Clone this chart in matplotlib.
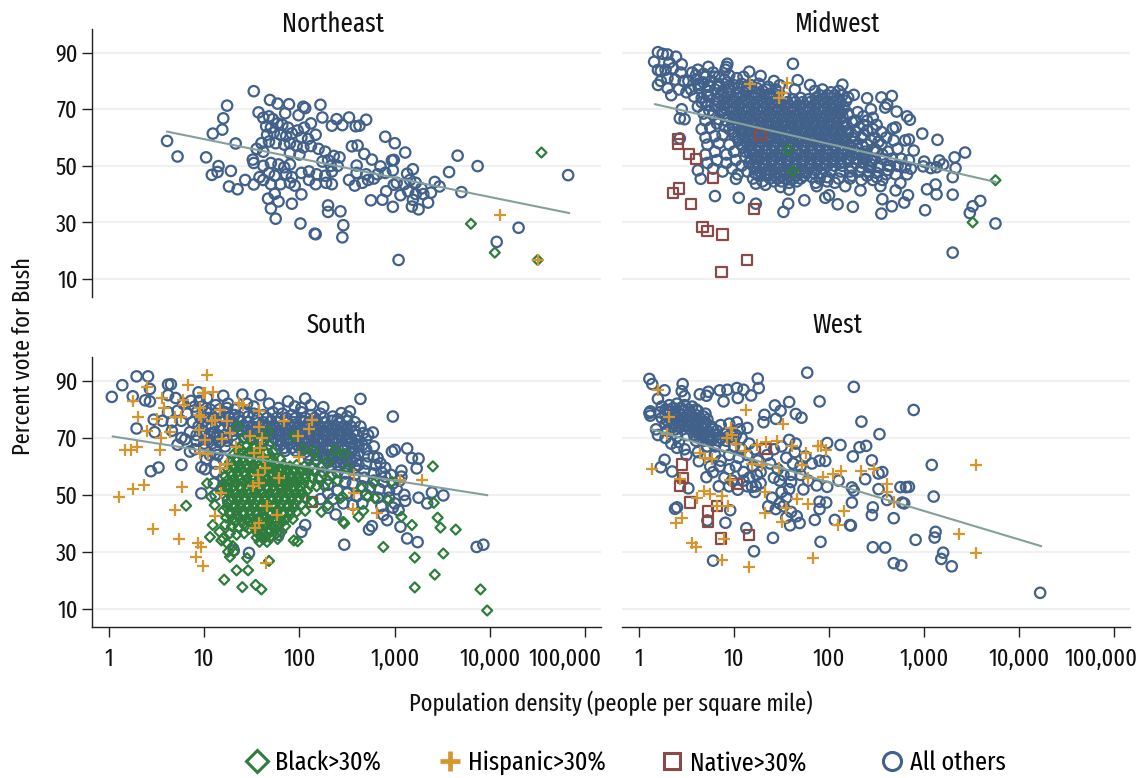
import numpy as np
import matplotlib
matplotlib.use("Agg")
import matplotlib.pyplot as plt
from matplotlib.lines import Line2D
from matplotlib.ticker import FixedLocator, NullLocator
from matplotlib.transforms import ScaledTranslation

plt.rcParams['font.family'] = ['Fira Sans Extra Condensed', 'PT Sans Narrow', 'Liberation Sans', 'DejaVu Sans']

# all points are (log10 density, percent Bush)
ne_others = [(.61,58.8),(.72,53.3),(1.02,53),(1.09,61.4),(1.19,62.8),(1.20,66.8),(1.24,71.3),(1.33,57.9),(1.08,46.8),(1.15,49.9),(1.14,47.8),(1.28,48.2),(1.26,42.7),(1.35,41.7),(1.43,45),(1.52,43.4),(1.51,52.2),(1.52,51),(1.52,76.4),(1.57,68.9),(1.69,73.3),(1.77,72),(1.89,71.8),(2.04,70.9),(2.06,70.4),(2.22,71.6),(1.85,68.6),(1.99,67.9),(2.24,67.1),(2.39,66.5),(2.52,67.1),(2.70,66.3),(2.34,64.2),(2.45,64.4),(2.59,64),(2.63,64.2),(2.90,60.3),(3.0,58),(3.11,54.7),(3.66,53.6),(3.87,49.9),(3.57,47.8),(3.47,42.7),(3.42,44.3),(3.70,40.7),(4.82,46.7),(4.30,28.1),(4.07,23.1),(3.04,16.7),(2.30,36),(2.30,33.7),(2.43,33.9),(2.46,29),(2.45,24.7),(2.16,26),(2.17,25.8),(2.01,29.6),(1.75,31.3),(1.70,34.9),(1.67,38.4),(1.78,37.4),(1.92,36.6),(1.74,40.1),(2.02,39.9),(2.75,37.8),(2.87,38),(2.98,35.5),(3.18,35.6),(3.25,34.6),(3.35,37),(3.06,39.6),(2.91,41),(3.19,38),(2.99,43.3),(3.19,48.8),(3.13,47.2),(2.97,51.9),(2.99,52.1),(2.98,48.4),(2.85,49.8),(2.76,52.2),(2.68,54.2),(2.61,57.2),(2.55,56.9),(2.60,50.1),
    (1.62,67),(1.68,67.5),(1.72,66.5),(1.65,64),(1.70,63.5),(1.77,65),(1.82,64.5),(1.88,63.5),(1.66,61),(1.73,61.8),(1.80,61),(1.86,60.5),(1.92,61.5),(1.98,62.5),(2.05,63.5),(2.12,65),(2.17,61),(2.02,60),(2.09,59.5),(1.60,58),(1.68,58.6),(1.75,58),(1.84,57.5),(1.90,58),(1.97,57),(2.04,56.5),(2.12,57),(2.20,56),(2.27,55),(1.55,56),(1.62,55),(1.90,54.5),(2.0,54),(2.30,52),(2.36,53.5),(2.42,53),(2.24,51.5),(2.33,50),(2.40,50),(1.62,50),(1.70,51),(1.78,50.5),(1.84,49.5),(1.90,50.5),(1.68,47.5),(1.74,46.5),(1.86,47),(1.92,46),(2.02,47.5),(2.10,48),(2.18,47),(2.27,46.5),(2.34,48),(1.58,46),(1.62,45),(1.70,43.5),(1.80,43.5),(1.90,44),(1.95,43),(2.10,45),(2.17,43.5),(2.28,44),(2.34,43.5),(2.52,45),(2.58,43),(2.66,44),(2.72,45),(2.78,45.5),(2.60,47.5),(2.70,47),(2.82,47),(2.90,47.5),(3.02,44),(3.10,43.5),(3.16,45),(3.22,44),(3.28,42),(3.14,41),(3.22,40),(3.30,40),(3.38,40.5)]
ne_black = [(4.54,54.7),(3.80,29.5),(4.05,19.3),(4.50,16.7)]
ne_hisp = [(4.11,32.6),(4.50,16.7)]
ne_fit = [(.61,62.1),(4.83,33.3)]

mw_others = [(.20,90.2),(.25,89.6),(.30,89.4),(.39,88.6),(.16,86.8),(.45,85.9),(.20,83.9),(.32,86.5),(.23,83.5),(.20,78.6),(.34,75),(.23,80),(.45,70),(.43,66.8),(.48,66.5),(.43,59.7),(.73,85),(.93,86.1),(.92,85),(.91,84),(1.16,83.3),(1.28,81.8),(1.42,80),(1.62,86.1),(1.67,80.3),(1.80,78.6),(1.64,77),(2.14,78.7),(2.26,75.1),(2.20,74.2),(2.40,73.9),(2.55,74.2),(2.66,74.7),(2.61,71.8),(2.59,70.6),(2.71,69.2),(2.44,70),(2.82,67.5),(2.85,66.3),(2.70,63.6),(2.67,63.2),(2.98,61.4),(3.14,59.2),(2.84,59.3),(2.80,59),(2.89,55.4),(2.68,59),(3.43,54.7),(3.32,53),(3.33,49.2),(3.16,51.9),(3.20,50.5),(3.0,51.5),(2.99,49.8),(3.07,49.2),(3.13,49.5),(3.30,46),(3.03,41.7),(3.12,43.4),(3.13,39.9),(3.30,39.8),(3.59,37.6),(3.51,35.7),(3.48,33.3),(3.75,29.6),(3.30,19.3),(3.01,34.3),(2.83,39.6),(2.79,37),(2.66,35.7),(2.55,33.1),(2.56,38.2),(2.25,35.5),(2.09,36.4),(2.0,39.6),(1.96,38.7),(1.74,37.8),(1.57,36.6),(1.52,33.7),(1.23,36.6),(1.05,38.7),(.80,39.3),(.65,45.4),(.62,48.4),(1.02,45.4),(1.23,43.7),(1.33,43.3),(1.49,42.5),(1.58,41.6),(1.87,42.8),(2.17,42.8),(2.33,41.3),(2.54,42.8),(2.70,41.3),(2.75,43.9),
    (.28,84),(.36,84.5),(.44,83),(.30,81),(.38,80.5),(.47,80),(.30,77.5),(.42,77),(.50,76),(.56,83),(.62,84),(.68,82.5),(.78,83),(.84,81.5),(.95,82),(1.03,81),(1.10,81.5),
    (.52,80),(.60,80.5),(.68,79.5),(.76,80),(.84,79),(.93,79.5),(1.0,78.5),(1.08,79),(1.18,78.5),(1.26,79),(1.36,78),(1.48,78.5),(.55,77),(.63,77.5),(.72,76.5),(.80,77),(.88,76.5),(.96,77),(1.05,76),(1.13,76.5),(1.22,76),(1.30,76.5),(1.38,75.5),(1.47,76),(1.85,76.5),(1.93,77),(2.02,76),(2.10,76.5),
    (.58,74.5),(.66,74),(.74,74.5),(.82,73.5),(.90,74),(.98,73.5),(1.06,74),(1.14,73.5),(1.22,74),(1.30,73.5),(1.38,74),(1.46,73),(1.54,74),(1.62,73.5),(1.70,74),(1.78,73.5),(1.86,74),(1.94,73.5),(2.02,74),(2.10,73.5),(2.18,73),
    (.62,71),(.72,71.5),(.80,71),(.88,71.5),(.96,71),(1.04,71.5),(1.12,71),(1.20,71.5),(1.28,71),(1.36,71.5),(1.44,71),(1.52,71.5),(1.60,71),(1.68,71.5),(1.76,71),(1.84,71.5),(1.92,71),(2.0,71.5),(2.08,71),(2.16,70.5),
    (.68,68.5),(.78,68),(.90,68.5),(.98,69),(1.06,68.5),(1.14,69),(1.22,68.5),(1.30,69),(1.38,68.5),(1.46,69),(1.54,68.5),(1.62,69),(1.70,68.5),(1.78,69),(1.86,68.5),(1.94,69),(2.02,68.5),(2.10,69),(2.20,68.5),(2.36,67.5),(2.46,67),
    (.70,66),(.82,65),(.92,66),(1.0,66.5),(1.08,66),(1.16,66.5),(1.24,66),(1.32,66.5),(1.40,66),(1.48,66.5),(1.56,66),(1.64,66.5),(1.72,66),(1.80,66.5),(1.88,66),(1.96,66.5),(2.04,66),(2.12,66.5),(2.24,65.5),(2.36,64.5),(2.50,64.5),
    (.66,63),(.75,63.5),(.95,63),(1.04,64),(1.12,63.5),(1.20,64),(1.28,63.5),(1.36,64),(1.44,63.5),(1.52,64),(1.60,63.5),(1.68,64),(1.76,63.5),(1.84,64),(1.92,63.5),(2.0,64),(2.08,63.5),(2.16,64),(2.28,62),(2.40,62.5),(2.55,62),
    (.70,60),(.80,60.5),(.88,61),(1.0,61),(1.08,61.5),(1.16,61),(1.24,61.5),(1.32,61),(1.40,61.5),(1.48,61),(1.56,61.5),(1.64,61),(1.72,61.5),(1.80,61),(1.88,61.5),(1.96,61),(2.04,61.5),(2.12,61),(2.20,61.5),(2.34,60),(2.48,60),(2.60,60),
    (.72,57.5),(.84,58),(.95,57.5),(1.05,59),(1.13,58.5),(1.21,59),(1.29,58.5),(1.37,59),(1.45,58.5),(1.53,59),(1.61,58.5),(1.69,59),(1.77,58.5),(1.85,59),(1.93,58.5),(2.01,59),(2.09,58.5),(2.17,59),(2.25,58.5),(2.40,57.5),(2.55,57.5),
    (.70,54),(.80,55),(.92,54),(1.0,55),(1.10,56.5),(1.18,56),(1.26,56.5),(1.34,56),(1.42,56.5),(1.50,56),(1.58,56.5),(1.66,56),(1.74,56.5),(1.82,56),(1.90,56.5),(1.98,56),(2.06,56.5),(2.14,56),(2.22,56.5),(2.30,56),(2.38,55),(2.50,55),(2.62,55),(2.72,56),
    (.72,51),(.82,52),(.92,51),(1.02,52),(1.12,53),(1.20,54),(1.28,53.5),(1.36,54),(1.44,53.5),(1.52,54),(1.60,53.5),(1.68,54),(1.76,53.5),(1.84,54),(1.92,53.5),(2.0,54),(2.08,53.5),(2.16,54),(2.24,53.5),(2.32,54),(2.40,53),(2.48,52.5),(2.56,52.5),(2.66,52.5),(2.76,52.5),(2.84,52),
    (.78,49),(.88,48),(.98,49),(1.08,50),(1.16,51),(1.24,51.5),(1.32,51),(1.40,51.5),(1.48,51),(1.56,51.5),(1.64,51),(1.72,51.5),(1.80,51),(1.88,51.5),(1.96,51),(2.04,51.5),(2.12,51),(2.20,51.5),(2.28,51),(2.36,51),(2.44,50.5),(2.52,50),(2.62,50),(2.72,50),(2.80,49.5),(2.86,49),
    (1.04,47),(1.14,48),(1.22,49),(1.30,49),(1.38,48.5),(1.46,49),(1.54,48.5),(1.62,49),(1.70,48.5),(1.78,49),(1.86,48.5),(1.94,49),(2.02,48.5),(2.12,48),(2.22,48),(2.32,48),(2.42,48),(2.50,47.5),(2.60,47),(2.70,47),(2.82,47),
    (1.26,46.5),(1.34,46.5),(1.42,46.5),(1.50,46.5),(1.58,46.5),(1.66,46.5),(1.74,46.5),(1.82,46),(1.90,45.5),(1.98,46),(2.10,45.5),(2.22,45.5),(2.34,45),(2.46,45),(2.56,45),(1.30,44.5),(1.42,44.5),(1.50,44.5),(1.58,44),(1.66,44.5),(1.86,44)]
# the solid middle of the Midwest cloud
mw_core = [(.60,82),(.70,81.5),(.80,81.5),(.90,80.5),(.64,78.5),(.74,78),(.84,78),(.94,78),(1.04,77.5),(1.14,78),(1.24,77.5),(1.34,77),(1.44,77),
    (.86,75),(.94,75.5),(1.02,75),(1.10,75),(1.18,75),(1.26,75),(1.34,75),(1.42,74.5),(1.90,75),(1.98,75),(2.06,75),(2.14,75),
    (.70,72.5),(.84,72.5),(.92,72.5),(1.00,72.5),(1.08,72.5),(1.16,72.5),(1.24,72.5),(1.32,72.5),(1.40,72.5),(1.48,72.5),(1.56,72.5),(1.64,72.5),(1.72,72.5),(1.80,72.5),(1.88,72.5),(1.96,72.5),(2.04,72.5),(2.12,72.5),
    (.92,70),(1.00,70),(1.08,70),(1.16,70),(1.24,70),(1.32,70),(1.40,70),(1.48,70),(1.56,70),(1.64,70),(1.72,70),(1.80,70),(1.88,70),(1.96,70),(2.04,70),(2.12,69),
    (.94,67.5),(1.02,67.5),(1.10,67.5),(1.18,67.5),(1.26,67.5),(1.34,67.5),(1.42,67.5),(1.50,67.5),(1.58,67.5),(1.66,67.5),(1.74,67.5),(1.82,67.5),(1.90,67.5),(1.98,67.5),(2.06,67.5),(2.14,67.5),
    (1.04,65),(1.12,65),(1.20,65),(1.28,65),(1.36,65),(1.44,65),(1.52,65),(1.60,65),(1.68,65),(1.76,65),(1.84,65),(1.92,65),(2.0,65),(2.08,65),(2.16,65),
    (1.08,62.5),(1.16,62.5),(1.24,62.5),(1.32,62.5),(1.40,62.5),(1.48,62.5),(1.56,62.5),(1.64,62.5),(1.72,62.5),(1.80,62.5),(1.88,62.5),(1.96,62.5),(2.04,62.5),(2.12,62.5),(2.20,62.5),
    (1.12,60),(1.20,60),(1.28,60),(1.36,60),(1.44,60),(1.52,60),(1.60,60),(1.68,60),(1.76,60),(1.84,60),(1.92,60),(2.0,60),(2.08,60),(2.16,60),(2.24,60),
    (1.17,57.5),(1.25,57.5),(1.33,57.5),(1.41,57.5),(1.49,57.5),(1.57,57.5),(1.65,57.5),(1.73,57.5),(1.81,57.5),(1.89,57.5),(1.97,57.5),(2.05,57.5),(2.13,57.5),(2.21,57.5),(2.29,57.5),(2.35,57),
    (1.16,55),(1.24,55),(1.32,55),(1.40,55),(1.48,55),(1.56,55),(1.64,55),(1.72,55),(1.80,55),(1.88,55),(1.96,55),(2.04,55),(2.12,55),(2.20,55),(2.28,55),(2.36,54),
    (1.24,52.5),(1.32,52.5),(1.40,52.5),(1.48,52.5),(1.56,52.5),(1.64,52.5),(1.72,52.5),(1.80,52.5),(1.88,52.5),(1.96,52.5),(2.04,52.5),(2.12,52.5),(2.20,52.5),(2.28,52.5),(2.36,52.5),(2.44,52),
    (1.26,50),(1.34,50),(1.42,50),(1.50,50),(1.58,50),(1.66,50),(1.74,50),(1.82,50),(1.90,50),(1.98,50),(2.06,50),(2.14,50),(2.24,49.5),(2.34,49.5),(2.42,49.5),
    (1.28,47.5),(1.36,47.5),(1.44,47.5),(1.52,47.5),(1.60,47.5),(1.68,47.5),(1.76,47.5),(1.84,47.5),(1.92,47.5),(1.38,45.5),(1.46,45.5),(1.54,45.5),(1.62,45.5),(1.70,45.5),
    (.62,79),(.72,75),(.66,72.5),(.74,69.5),(.86,69),(.84,66.5),(.90,64),(.98,64.5),(1.0,62),(1.04,60),(1.08,57.5),(1.12,55),(1.18,52.5),(1.20,50),(1.22,47.5),(1.20,45.5),(1.98,44.5),(2.06,44),(2.24,46.5),(2.40,46.5),(2.50,46),(2.20,68),(2.30,69),(2.28,66),(2.40,66),(2.32,63.5),(2.46,63),(2.36,61),(2.44,59),(2.52,58.5),(2.48,56),(2.56,54),(2.64,50),(2.62,48.5)]
mw_black = [(3.75,44.9),(3.51,30),(1.57,55.6),(1.62,48.1)]
mw_hisp = [(1.17,79),(1.56,79.2),(1.50,75.6),(1.47,74)]
mw_native = [(.41,59.5),(.41,57.8),(.53,54.2),(.60,52.3),(.78,45.8),(.42,42),(.36,40.5),(.55,36.4),(.67,28.3),(.72,27),(.88,25.7),(.87,12.5),(1.14,16.7),(1.21,34.8),(1.28,61)]
mw_fit = [(.17,71.8),(3.75,44.3)]

so_others = [(.03,84.4),(.14,88.5),(.29,91.6),(.41,91.6),(.25,84.6),(.38,83.2),(.43,82.8),(.43,87.2),(.62,88.7),(.65,88.8),(.29,73.3),(.47,76.4),(.48,72),(.72,67.6),(.85,65.2),(.76,60.5),(.44,58.3),(.52,59.6),(.76,70),(.97,50.5),(.97,59.7),(1.01,59),(.94,86),(1.2,84.8),(1.40,85.2),(1.59,85),(1.88,82.8),(2.06,83.8),(2.25,80.8),(2.44,78.7),(2.53,79.3),(2.64,83.7),(2.98,77.5),(2.77,71.9),(2.67,71.7),(2.97,65.2),(3.0,65.8),(3.13,66.3),(3.18,62.9),(3.25,62.7),(3.23,59.3),(3.07,58.5),(3.07,56.4),(2.9,56.4),(2.85,61.1),(2.78,63.4),(3.39,50.8),(3.51,49.8),(3.25,49),(3.34,47),(3.11,47.9),(3.04,44.6),(2.92,41.1),(3.06,38.8),(3.13,34.7),(3.24,33.4),(3.86,31.7),(3.93,32.5),(2.47,32.5),(2.73,37.8),(2.76,39),(2.38,43.1),(2.06,39.4),(2.02,37),(1.47,29.6),(1.31,30.5),
    (.62,85),(.70,84),(.78,82),(.86,83),(.95,83),(1.03,84),(1.12,81.5),(1.25,82),(1.32,80),(1.45,82),(1.52,81),(1.68,82),(1.78,80.5),(1.95,81),(2.02,80.5),(2.12,81.5),(.62,79),(.72,79.5),(.82,78.5),(.92,79),(1.02,79),(1.12,78.5),(1.22,79),(1.32,78),(1.42,79),(1.52,78.5),(1.62,78),(1.72,79),(1.82,78.5),(1.92,78),(2.02,79),(2.12,78),(2.22,78.5),(2.35,77.5),
    (.56,76),(.66,75.5),(.76,76),(.88,75.5),(1.0,76),(1.12,75.5),(1.22,76),(1.30,75.5),(1.38,76),(1.46,75.5),(1.54,76),(1.62,75.5),(1.70,76),(1.78,75.5),(1.86,76),(1.94,75.5),(2.02,76),(2.10,75.5),(2.18,76),(2.26,75.5),(2.34,76),(2.42,75.5),(2.50,76),(2.58,75.5),
    (.66,72.5),(.85,72),(.98,72.5),(1.1,72),(1.2,73),(1.30,72.5),(1.38,73),(1.46,72.5),(1.54,73),(1.62,72.5),(1.70,73),(1.78,72.5),(1.86,73),(1.94,72.5),(2.02,73),(2.10,72.5),(2.18,73),(2.26,72.5),(2.34,73),(2.42,72.5),(2.50,73),(2.58,72.5),
    (.80,69.5),(.92,69),(1.04,69.5),(1.12,70),(1.22,70),(1.42,70),(1.50,70.5),(1.58,70),(1.66,70.5),(1.74,70),(1.82,70.5),(1.90,70),(1.98,70.5),(2.06,70),(2.14,70.5),(2.22,70),(2.30,70.5),(2.38,70),(2.46,70.5),(2.54,70),(2.62,69),(2.70,69.5),
    (.90,66),(1.0,66),(1.12,66),(1.22,67),(1.80,67.5),(1.90,68),(1.98,67.5),(2.06,68),(2.14,67.5),(2.22,68),(2.30,67.5),(2.38,68),(2.46,67.5),(2.54,68),(2.62,67),(2.70,66),(2.78,67),(1.85,65.5),(1.96,65.5),(2.06,65),(2.14,65.5),(2.22,65),(2.30,65.5),(2.38,65),(2.46,65.5),(2.54,65),(2.62,64.5),(2.72,63.5),(2.82,63),
    (1.02,62.5),(1.12,61),(2.10,63),(2.18,62.5),(2.26,63),(2.34,62.5),(2.42,63),(2.50,62.5),(2.60,62),(2.70,61),(2.80,60.5),(2.90,59.5),(2.25,60.5),(2.33,60),(2.41,60.5),(2.49,60),(2.58,59.5),(2.68,58.5),(2.78,57.5),(2.86,58),(2.96,57),(2.40,58),(2.48,57.5),(2.58,57),(2.68,56),(2.78,55),(2.88,54.5),(2.98,54),(3.05,55),(2.48,54.5),(2.56,54),(2.66,53),(2.74,52.5),(2.84,52),(2.94,51.5),(3.02,52),(3.10,50),(2.40,51.5),(2.50,50.5),(2.60,49.5),(2.70,50),(2.82,49),(2.94,49),(3.0,47),(2.35,48.5),(2.46,47),(2.56,46.5),(2.66,47),(2.86,46),(2.98,45.5),(2.88,43),(2.30,45.5),
    (1.12,58),(1.20,56),(1.10,54),(1.18,52),(1.12,50),(1.25,48),(1.40,44),(1.60,42),(1.78,36),(1.60,36)]
# the solid top of the South cloud
so_core = [(1.26,77.5),(1.36,77.5),(1.46,77.5),(1.56,77),(1.66,77),(1.76,77),(1.86,77),(1.96,77),(2.06,77),(2.16,77),(2.26,77),(2.40,76.5),(2.50,77.5),
    (1.16,74),(1.26,74),(1.34,74),(1.42,74),(1.50,74),(1.58,74),(1.66,74),(1.74,74),(1.82,74),(1.90,74),(1.98,74),(2.06,74),(2.14,74),(2.22,74),(2.30,74),(2.38,74),(2.46,74),(2.54,74),(2.64,74),
    (1.30,71),(1.46,71),(1.54,71.5),(1.62,71.5),(1.70,71.5),(1.78,71.5),(1.86,71.5),(1.94,71.5),(2.02,71.5),(2.10,71.5),(2.18,71.5),(2.26,71.5),(2.34,71.5),(2.42,71.5),(2.50,71.5),(2.60,71),(2.72,71),
    (1.62,69),(1.70,69),(1.78,69),(1.86,69),(1.94,69),(2.02,69),(2.10,69),(2.18,69),(2.26,69),(2.34,69),(2.42,69),(2.50,69),(2.58,68),(2.66,67.5),
    (1.76,66),(1.84,66.5),(1.92,66.5),(2.00,66.5),(2.08,66.5),(2.16,66.5),(2.24,66.5),(2.32,66.5),(2.40,66.5),(2.48,66.5),(2.56,66),(2.10,64),(2.18,64),(2.26,64),(2.34,64),(2.42,64),(2.50,64),(2.58,63.5),(2.30,61.5),(2.38,61.5),(2.46,61.5),(2.54,61.5),(2.62,60.5),
    (.90,81),(.98,81),(1.06,80),(1.16,80),(1.24,80.5),(.96,77),(1.04,77),(1.10,77),(1.18,77),(.94,74),(1.02,74),(1.08,74),(.92,71),(1.0,71),(1.06,71.5),(1.14,71),(1.22,71),(1.0,68),(1.08,68),(1.16,68.5),(1.24,69),(1.32,69),(1.06,64),(1.14,64),(1.20,62.5),(2.14,59),(2.22,56.5),(2.30,53.5),(2.30,50.5),(2.22,48.5)]
so_black = [(.81,46.2),(1.03,54),(1.07,49.3),(1.11,46.4),(1.09,39.4),(1.06,35.2),(1.2,34.7),(1.18,34),(1.25,30),(1.31,30),(1.27,28.2),(1.45,27.8),(1.46,23.5),(1.34,23.5),(1.21,20.2),(1.40,17.6),(1.54,18.4),(1.60,16.8),(1.68,26.8),(1.94,34),(1.98,33.7),(1.81,37),(2.23,44),(2.06,44.4),(2.30,46.4),(2.46,40.5),(2.47,40),(2.62,42.3),(2.67,44.4),(2.43,48.8),(2.45,49.4),(2.79,48.8),(2.72,49.3),(2.78,54),(2.65,52.3),(2.93,48.2),(2.97,54.6),(3.07,42.3),(3.18,39.4),(3.40,60),(3.41,47.2),(3.45,42),(3.48,38.5),(3.64,37.8),(3.51,29.4),(2.88,31.7),(3.21,28),(3.42,22),(3.21,17.5),(3.90,16.8),(3.97,9.4),(1.35,74),(1.67,72.3),(1.94,70.7),(2.04,66),(2.15,65.2),(2.37,65.6),(2.47,64.4),(2.30,61.7),(2.50,59.3),(2.18,61.7),
    (1.42,70),(1.50,69),(1.58,69.5),(1.68,67.5),(1.36,66.5),(1.44,67),(1.52,66.5),(1.60,67),(1.72,65),(1.30,64),(1.37,64.5),(1.44,64),(1.51,64.5),(1.58,64),(1.65,64.5),(1.72,62.5),(1.80,62.5),(1.27,61.5),(1.34,62),(1.41,61.5),(1.48,62),(1.55,61.5),(1.62,62),(1.69,61.5),(1.76,60.5),(1.83,60.5),(1.90,60),(1.97,60.5),(2.05,60),(2.12,60),
    (1.25,59),(1.32,59.5),(1.39,59),(1.46,59.5),(1.53,59),(1.60,59.5),(1.67,59),(1.74,58.5),(1.81,58.5),(1.88,58),(1.95,58.5),(2.02,58),(2.09,58),(2.16,58),(2.24,58),(2.34,57),(1.22,56.5),(1.29,57),(1.36,56.5),(1.43,57),(1.50,56.5),(1.57,57),(1.64,56.5),(1.71,56.5),(1.78,56),(1.85,56),(1.92,56.5),(1.99,56),(2.06,56),(2.13,56),(2.20,55.5),(2.30,55),(2.40,55),
    (1.20,54),(1.27,54.5),(1.34,54),(1.41,54.5),(1.48,54),(1.55,54.5),(1.62,54),(1.69,54.5),(1.76,54),(1.83,54),(1.90,54),(1.97,54),(2.04,54),(2.11,53.5),(2.18,53),(2.26,53),(1.17,51.5),(1.24,52),(1.31,51.5),(1.38,52),(1.45,51.5),(1.52,52),(1.59,51.5),(1.66,52),(1.73,51.5),(1.80,52),(1.87,51.5),(1.94,51.5),(2.01,51.5),(2.08,51.5),(1.22,49.5),(1.29,49),(1.36,49.5),(1.43,49),(1.50,49.5),(1.57,49),(1.64,49.5),(1.71,49),(1.78,49.5),(1.85,49),(1.92,49.5),(1.99,49),(2.06,49),(2.14,47.5),(1.25,47),(1.32,46.5),(1.39,47),(1.46,46.5),(1.53,47),(1.60,46.5),(1.67,47),(1.74,46.5),(1.81,47),(1.88,46.5),(1.95,47),(2.02,46.5),
    (1.20,44.5),(1.27,44),(1.34,44.5),(1.41,44),(1.48,44.5),(1.55,44),(1.62,44.5),(1.69,44),(1.76,44.5),(1.83,44),(1.90,44.5),(1.97,44),(1.23,42),(1.30,41.5),(1.37,42),(1.44,41.5),(1.51,42),(1.58,41.5),(1.65,42),(1.72,41.5),(1.79,42),(1.86,41.5),(1.93,41.5),(1.22,39.5),(1.29,39),(1.36,38.5),(1.43,39),(1.50,39.5),(1.57,39),(1.64,39.5),(1.71,39),(1.78,39.5),(1.85,39),(1.16,37),(1.27,36.5),(1.34,36),(1.42,36.5),(1.55,37),(1.62,36.5),(1.69,37),(1.76,36.5),(1.55,35),(1.62,34.5),(1.69,35),(1.77,34.5),(1.58,33.5),(1.66,33.5),(1.24,33),(1.30,32),
    (1.40,65.5),(1.48,65.5),(1.56,65.5),(1.34,63),(1.41,63),(1.48,63),(1.55,63),(1.62,63),(1.69,63),(1.30,60.5),(1.37,60.5),(1.44,60.5),(1.51,60.5),(1.58,60.5),(1.65,60.5),(1.72,60),(1.80,59.5),(1.87,59),(1.94,59),(2.01,59),(1.28,58),(1.35,58),(1.42,58),(1.49,58),(1.56,58),(1.63,58),(1.70,57.5),(1.77,57),(1.84,57),(1.91,57),(1.98,57),(2.05,57),(1.24,55),(1.31,55.5),(1.38,55.5),(1.45,55.5),(1.52,55.5),(1.59,55.5),(1.66,55.5),(1.73,55),(1.80,55),(1.87,55),(1.94,55),(2.01,55),(1.24,53),(1.31,53),(1.38,53),(1.45,53),(1.52,53),(1.59,53),(1.66,53),(1.73,53),(1.80,53),(1.87,53),(1.94,53),(2.01,53),(1.26,50.5),(1.33,50.5),(1.40,50.5),(1.47,50.5),(1.54,50.5),(1.61,50.5),(1.68,50.5),(1.75,50.5),(1.82,50.5),(1.89,50.5),(1.96,50.5),(2.03,50.5),(1.28,48),(1.35,48),(1.42,48),(1.49,48),(1.56,48),(1.63,48),(1.70,48),(1.77,48),(1.84,48),(1.91,48),(1.98,48),(1.24,45.5),(1.31,45.5),(1.38,45.5),(1.45,45.5),(1.52,45.5),(1.59,45.5),(1.66,45.5),(1.73,45.5),(1.80,45.5),(1.87,45.5),(1.94,45.5),(1.27,43),(1.34,43),(1.41,43),(1.48,43),(1.55,43),(1.62,43),(1.69,43),(1.76,43),(1.83,43),(1.90,43),(1.33,40.5),(1.40,40.5),(1.47,40.5),(1.54,40.5),(1.61,40.5),(1.68,40.5),(1.75,40.5),(1.82,40.5),(1.47,38),(1.54,38),(1.61,38),(1.68,38),(1.75,38),(1.58,36),(1.65,35.5)]
so_hisp = [(1.03,92.2),(.83,88.7),(.40,87.8),(.25,83),(.56,84),(.58,80.5),(.78,83.4),(.79,81.7),(.99,85.8),(1.01,85.9),(1.09,86.1),(1.37,82.2),(1.41,81.7),(1.57,79.5),(1.17,79.9),(.96,80.5),(.94,78.1),(.97,77.5),(1.11,76.4),(1.08,75.8),(1.24,75.8),(.30,77.3),(.50,76.6),(.69,77.5),(.76,77.5),(.40,72.5),(.64,72),(.95,72.8),(1.01,69.3),(1.19,69.7),(1.27,71.7),(.55,69.9),(.29,66.7),(.17,65.8),(.23,65.8),(.54,65.8),(.96,64.6),(1.04,64.4),(1.33,66.7),(1.48,70.7),(1.58,73.7),(1.61,70.1),(1.84,75.8),(2.13,76.4),(2.10,73.2),(1.98,70.7),(1.52,64.6),(1.59,66.4),(1.62,63.2),(1.99,63.4),(1.17,59.3),(1.24,61),(1.64,59.3),(1.56,57),(1.78,56),(1.57,54),(1.51,53.1),(1.18,50.8),(.77,52.6),(.37,53.5),(.25,52),(.11,49.1),(.69,44.6),(.46,37.9),(.74,34.5),(.93,33.2),(.97,31.7),(.91,28.2),(.99,24.9),(1.65,26.2),(1.11,42.6),(1.66,46),(1.76,42.9),(1.57,40.2),(1.53,38.2),(2.57,57),(2.57,50.5),(2.56,44.9),(2.81,43.5),(3.05,55.2),(3.29,55.2)]
so_native = [(2.13,47.6),(1.53,66.4),(1.82,54)]
so_fit = [(.04,70.5),(3.97,49.9)]

we_others = [(.11,90.7),(.14,88.9),(.27,86.7),(.46,88.9),(.45,86.4),(.48,84.6),(.20,83.7),(.64,85.3),(.73,86.2),(.71,84.8),(.85,86.7),(.93,86.9),(1.03,87.5),(1.10,86.9),(1.25,90.8),(1.26,87.5),(1.18,84.9),(1.04,84),(.89,82.8),(1.77,92.9),(2.26,87.9),(1.90,82.8),(1.58,82.6),(1.43,81.4),(1.49,79.5),(1.32,78.1),(1.31,75.5),(1.44,76.7),(1.65,78.4),(1.71,77.1),(2.34,75.7),(2.89,79.8),(2.53,71.3),(2.12,67.5),(2.39,67.2),(2.32,66.7),(1.98,68.2),(1.65,68),(1.58,69.3),(2.25,63.5),(2.45,62.1),(1.96,61.9),(3.08,60.5),(2.56,58),(2.52,57.5),(2.38,55.5),(2.10,55),(2.52,52),(2.24,52.6),(2.26,51.5),(1.98,52.8),(1.87,53.3),(1.73,51.9),(2.75,52.7),(2.81,52.7),(2.84,52.8),(3.10,49.4),(2.79,47),(2.77,47.3),(2.61,48.2),(2.46,45.6),(2.45,42.9),(2.24,47.3),(2.68,41.8),(2.06,41.2),(2.22,39.4),(2.23,39.2),(1.85,41.2),(1.90,45),(1.97,47.3),(1.90,47.6),(1.69,40.1),(1.59,39.3),(1.41,34.9),(1.91,33.5),(1.21,30.2),(.78,26.9),(2.46,31.6),(2.59,31.5),(2.91,34.2),(3.12,37),(3.11,35),(3.20,29.7),(3.18,27.5),(2.68,26),(2.76,25.2),(3.29,24.9),(4.22,15.6),(1.13,38.3),(.91,40.2),(.72,41),(.38,45.1),(.40,45.6),(.96,44.6),(.27,62.3),(.23,59.7),(.35,58.2),(.63,61.8),(.71,56.2),(.52,52.3),(1.04,51.8),(.84,53),(1.19,52.8),(1.23,53),(1.28,54.1),(.11,78.7),(.12,79.3),(.12,77.8),
    (.24,81),(.32,81.5),(.40,82),(.48,81.5),(.56,81),(.22,79),(.30,79.5),(.38,79),(.46,79.5),(.54,79),(.62,79.5),(.70,78.5),(.24,77),(.32,77),(.40,77.5),(.48,77),(.56,77.5),(.64,77),(.72,76.5),(.28,75),(.36,75),(.44,75),(.52,75.5),(.60,75),(.68,75),(.76,74),(.18,73),(.30,72.5),(.38,73),(.46,73),(.54,73),(.62,73),(.70,73),(.78,73),(.86,74.5),(.95,75),(1.03,75.5),(.20,71),(.28,70),(.40,70.5),(.50,71),(.58,71),(.66,71),(.74,71),(.82,71),(.90,71.5),(.98,72),(1.06,73),(1.14,73.5),(.34,68),(.42,68.5),(.60,69),(.68,69),(.76,69),(.84,69),(.92,69),(1.0,69.5),(1.08,70),(1.16,68),(.40,66.5),(.48,66),(.72,67),(.80,67),(.90,67),(1.0,67),(1.08,66),(1.22,66),
    (.28,80),(.36,80.5),(.44,80.5),(.52,80),(.60,80),(.28,78),(.36,78),(.44,78),(.52,78),(.60,78),(.68,77.5),(.30,76),(.38,76),(.46,76),(.54,76),(.62,76),(.70,75.5),(.34,74),(.42,74),(.50,74),(.58,74),(.66,74),(.74,72),(.82,72.5),(.62,72),(.70,71.5),(.78,70),(.86,70),(.94,70.5),(.64,70),(.72,70),(1.02,71),
    (.50,64),(.62,65),(.80,64),(.86,62),(.95,64),(1.05,63),(1.14,64),(1.25,62),(1.35,64),(1.42,66),(1.50,67),(1.55,63),(1.64,65),(1.75,63.5),(1.82,61),(1.70,60),(1.62,61),(1.90,62),(.75,60),(.85,60),(.95,59),(1.02,60),(1.10,58),(1.20,60),(1.28,58),(1.38,61),(1.46,59),(1.52,57),(1.60,57),(1.70,57),(.78,58),(.90,56),(.98,55),(1.10,55),(1.16,56),(1.24,57),(1.42,56),(1.48,55),(1.60,54.5),(1.78,55),(.95,53),(1.14,53),(1.22,51),(1.50,51),(1.58,52),(1.40,49),(1.48,47),(1.55,49),(1.36,46),(1.44,45),(1.52,46),(1.60,44),(1.66,42.5),(1.55,42)]
we_hisp = [(.20,86.9),(.32,77.5),(.30,71.4),(1.13,79.7),(1.52,75),(.97,73.4),(.98,71),(.93,69.9),(1.02,68),(1.24,67.6),(1.34,68.6),(1.45,69),(1.12,65.5),(1.61,67),(1.76,64.6),(1.88,67),(1.92,67.2),(1.97,65.8),(1.72,60.4),(1.19,61),(1.29,60.4),(1.47,59.3),(.64,64.6),(.70,62.9),(.77,62.5),(.14,59),(.43,55.5),(.96,55.2),(.68,51.5),(.75,50.3),(.87,49.6),(.61,48.8),(.82,46),(.94,46),(1.33,50.9),(1.78,55.9),(1.94,56.4),(2.04,57.2),(2.13,58.4),(2.34,58.5),(2.47,59),(2.61,53.7),(2.61,51.1),(2.68,47.6),(2.16,44.4),(2.09,39.3),(1.51,40.5),(1.33,43.5),(1.55,45.5),(1.66,48.6),(1.78,46.8),(.45,41.9),(.39,40.1),(.56,33.2),(.60,31.7),(.90,34.4),(.87,27.3),(1.16,24.6),(1.83,27.9),(3.37,36.4),(3.55,29.6),(3.55,60.5)]
we_native = [(.45,60.7),(.46,55.9),(.43,53),(.54,47.3),(.73,44.4),(.82,46),(.73,40.5),(.86,34.7),(1.16,36),(1.03,53.7),(1.33,66.2)]
we_fit = [(.13,73.1),(4.23,32)]

regions = ['Northeast', 'Midwest', 'South', 'West']
y_ticks = [10, 30, 50, 70, 90]
x_ticks = [1, 10, 100, 1000, 10000, 100000]
x_tick_labels = ['1', '10', '100', '1,000', '10,000', '100,000']
legend_labels = ['Black>30%', 'Hispanic>30%', 'Native>30%', 'All others']

BLUE = '#41618a'
GREEN = '#2f7d3c'
ORANGE = '#d5952f'
BROWN = '#8a4b48'
FIT = '#84a09b'
TEXT = '#111111'
W, H = 1140, 778
FS = 17.5


def xy(points):
    a = np.array(points, dtype=float).reshape(-1, 2)
    return 10 ** a[:, 0], a[:, 1]


def draw_panel(box, others, black, hisp, native, fit, left, bottom, last_shift):
    x0, x1, y_top, y_bot = box
    ax = fig.add_axes([x0 / W, 1 - y_bot / H, (x1 - x0) / W, (y_bot - y_top) / H])
    ax.scatter(*xy(others), s=56, facecolors='none', edgecolors=BLUE, linewidths=1.6, zorder=3)
    if native:
        ax.scatter(*xy(native), s=55, marker='s', facecolors='none', edgecolors=BROWN, linewidths=1.6, zorder=4)
    if black:
        ax.scatter(*xy(black), s=26, marker='D', facecolors='none', edgecolors=GREEN, linewidths=1.6, zorder=5)
    if hisp:
        ax.scatter(*xy(hisp), s=85, marker='+', color=ORANGE, linewidths=1.6, zorder=6)
    fx, fy = xy(fit)
    ax.plot(fx, fy, color=FIT, lw=1.5, zorder=7)

    ax.set_xscale('log')
    ax.set_xlim(10 ** -0.178, 10 ** 5.165)
    ax.set_ylim(3.6, 98.4)
    ax.yaxis.grid(True, color='#f0f0f0', lw=1.5)
    ax.set_axisbelow(True)
    ax.xaxis.set_major_locator(FixedLocator(x_ticks))
    ax.xaxis.set_minor_locator(NullLocator())
    ax.set_xticklabels(x_tick_labels)
    ax.set_yticks(y_ticks)
    ax.tick_params(axis='both', labelsize=FS, length=7.2, width=1, color='#222222', labelcolor=TEXT)
    ax.tick_params(axis='y', pad=3)
    ax.tick_params(axis='x', pad=8)
    for side in ['top', 'right']:
        ax.spines[side].set_visible(False)
    for side in ['left', 'bottom']:
        ax.spines[side].set_linewidth(1)
        ax.spines[side].set_color('#222222')
    ax.spines['left'].set_visible(left)
    ax.spines['bottom'].set_visible(bottom)
    ax.tick_params(axis='y', left=left, labelleft=left)
    ax.tick_params(axis='x', bottom=bottom, labelbottom=bottom)
    if bottom:
        # the last label is pulled left in the original so it stays inside the panel
        lab = ax.xaxis.get_major_ticks()[-1].label1
        lab.set_transform(lab.get_transform() + ScaledTranslation(-last_shift / 100, 0, fig.dpi_scale_trans))
    return ax


fig = plt.figure(figsize=(W / 100, H / 100), dpi=100)
draw_panel((92, 601, 29, 297), ne_others, ne_black, ne_hisp, [], ne_fit, True, False, 20)
draw_panel((622, 1130, 29, 297), mw_others + mw_core, mw_black, mw_hisp, mw_native, mw_fit, False, False, 13)
draw_panel((92, 601, 357, 627), so_others + so_core, so_black, so_hisp, so_native, so_fit, True, True, 20)
draw_panel((622, 1130, 357, 627), we_others, [], we_hisp, we_native, we_fit, False, True, 13)

fig.text(333 / W, 1 - 24 / H, regions[0], ha='center', va='center', fontsize=19.5, color=TEXT)
fig.text(838 / W, 1 - 24 / H, regions[1], ha='center', va='center', fontsize=19.5, color=TEXT)
fig.text(337 / W, 1 - 325 / H, regions[2], ha='center', va='center', fontsize=19.5, color=TEXT)
fig.text(837 / W, 1 - 325 / H, regions[3], ha='center', va='center', fontsize=19.5, color=TEXT)
fig.text(23 / W, 1 - 356 / H, 'Percent vote for Bush', rotation=90, ha='center', va='center', fontsize=FS, color=TEXT)
fig.text(611 / W, 1 - 703 / H, 'Population density (people per square mile)', ha='center', va='center', fontsize=FS, color=TEXT)

handles = [
    Line2D([], [], ls='', marker='D', ms=11.5, mfc='none', mec=GREEN, mew=2.2),
    Line2D([], [], ls='', marker='+', ms=15, color=ORANGE, mew=3.4),
    Line2D([], [], ls='', marker='s', ms=12, mfc='none', mec=BROWN, mew=2.2),
    Line2D([], [], ls='', marker='o', ms=13, mfc='none', mec=BLUE, mew=2.2),
]
# the legend gaps are uneven in the original, so each entry is placed on its own
for handle, label, x_px in zip(handles, legend_labels, [244, 437, 659, 879]):
    fig.legend([handle], [label], loc='center left', bbox_to_anchor=(x_px / W, 1 - 763 / H), frameon=False,
               fontsize=19, borderpad=0, borderaxespad=0, handlelength=1, handletextpad=0.18)

fig.savefig('out.png', dpi=100)
